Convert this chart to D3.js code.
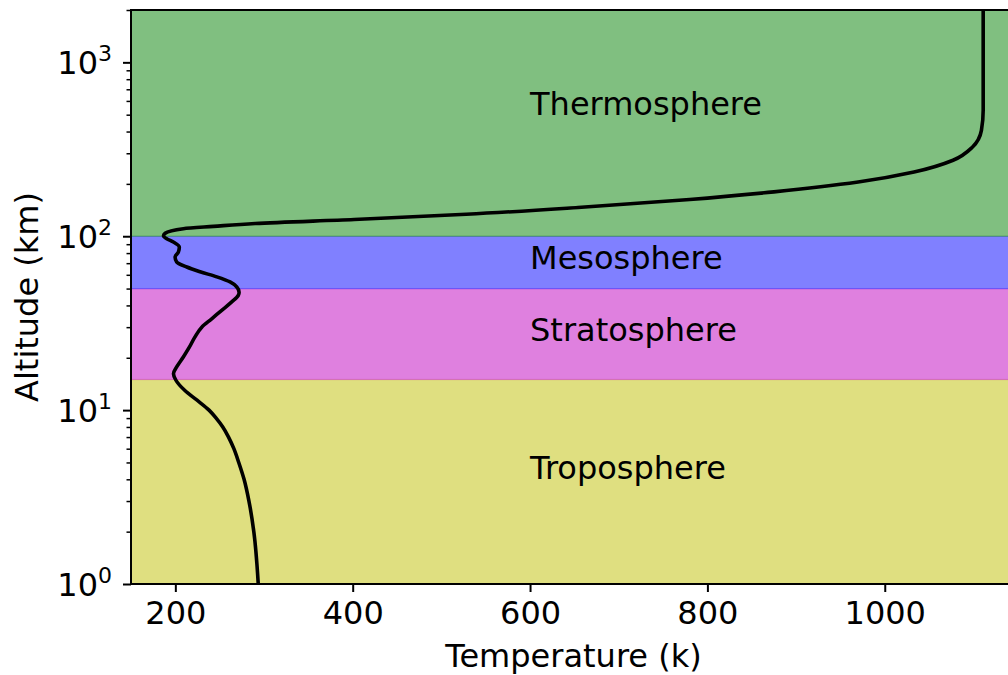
<!DOCTYPE html>
<html>
<head>
<meta charset="utf-8">
<script src="https://cdn.jsdelivr.net/npm/d3@7"></script>
<style>
  html, body { margin: 0; padding: 0; background: #fff; }
  svg { display: block; font-family: "DejaVu Sans", sans-serif; }
</style>
</head>
<body>
<svg id="chart" width="1008" height="675"></svg>
<script>
// Atmospheric layers (altitude bounds in km)
const layerNames = ["Troposphere", "Stratosphere", "Mesosphere", "Thermosphere"];
const layerBottoms = [1, 15, 50, 100];
const layerTops = [15, 50, 100, 2000];
const layerColors = ["#dfdf80", "#df80df", "#8080ff", "#80bf80"];
const layerEdgeColors = ["#bfbf00", "#bf00bf", "#0000ff", "#008000"];
const layerLabelAltitudes = [4, 25, 65, 500];
const layerLabelTemperature = 600;

// Temperature profile: altitude (km) and temperature (K)
const altitudes = [
  1, 2, 3, 4, 5, 6, 7, 8, 9, 10, 11.4, 13, 14.9, 16.2, 17.7, 20.2, 23, 26.3,
  30, 33.5, 37.5, 41.9, 45.7, 47.7, 51.1, 54.6, 58.4, 62.5, 66.5, 71.1, 75.9,
  81, 86.6, 92.6, 96.8, 100.4, 104, 110.5, 113.9, 118.3, 124.7, 133.7, 146.3,
  162.6, 180, 205, 234, 273.5, 326, 406, 530, 2000
];
const temperatures = [
  293.5, 288.5, 283, 277.5, 271.5, 266, 260, 253.5, 246, 238, 224.5, 210.5, 200.5,
  197.9, 201.5, 209, 215.8, 222, 229.8, 241, 252.3, 263.6, 271, 271.9, 269.3,
  261.7, 246.7, 227.9, 212.9, 201.5, 199.7, 203.4, 204.5, 197.8, 190.3, 186.6,
  188.5, 209, 243, 290, 401.6, 528, 654, 780, 875, 970, 1033, 1077, 1099, 1109,
  1111, 1111
];

const xTicks = [200, 400, 600, 800, 1000];
const yMajorTicks = [1, 10, 100, 1000];
const yExponents = ["0", "1", "2", "3"];

const svg = d3.select("#chart");
const plotLeft = 131, plotRight = 1016, plotTop = 10, plotBottom = 584;
const fontSize = 32;

const x = d3.scaleLinear().domain([150, 1148]).range([plotLeft, plotRight]);
const y = d3.scaleLog().domain([1, 2000]).range([plotBottom, plotTop]);

svg.append("defs").append("clipPath").attr("id", "plotClip")
  .append("rect").attr("x", plotLeft).attr("y", plotTop)
  .attr("width", plotRight - plotLeft).attr("height", plotBottom - plotTop);

const plot = svg.append("g").attr("clip-path", "url(#plotClip)");

// Layer bands
const layers = layerNames.map((name, i) => ({
  name, lo: layerBottoms[i], hi: layerTops[i],
  fill: layerColors[i], edge: layerEdgeColors[i], labelAlt: layerLabelAltitudes[i]
}));

plot.selectAll("rect.band").data(layers).join("rect")
  .attr("class", "band")
  .attr("x", plotLeft)
  .attr("width", plotRight - plotLeft)
  .attr("y", d => y(d.hi))
  .attr("height", d => y(d.lo) - y(d.hi))
  .attr("fill", d => d.fill)
  .attr("stroke", d => d.edge)
  .attr("stroke-opacity", 0.35)
  .attr("stroke-width", 1.2);

// Layer names
plot.selectAll("text.layer").data(layers).join("text")
  .attr("class", "layer")
  .attr("x", x(layerLabelTemperature))
  .attr("y", d => y(d.labelAlt))
  .attr("font-size", fontSize)
  .attr("fill", "#000")
  .text(d => d.name);

// Temperature curve
const profile = altitudes.map((a, i) => ({ alt: a, temp: temperatures[i] }));
const line = d3.line()
  .x(d => x(d.temp))
  .y(d => y(d.alt))
  .curve(d3.curveMonotoneY);

plot.append("path")
  .datum(profile)
  .attr("d", line)
  .attr("fill", "none")
  .attr("stroke", "#000")
  .attr("stroke-width", 3.6)
  .attr("stroke-linejoin", "round");

// X axis
const xAxis = d3.axisBottom(x).tickValues(xTicks).tickSize(8).tickPadding(9)
  .tickFormat(d3.format("d"));
const gx = svg.append("g").attr("transform", `translate(0,${plotBottom})`).call(xAxis);
gx.select(".domain").remove();
gx.selectAll(".tick line").attr("stroke", "#000").attr("stroke-width", 2);
gx.selectAll(".tick text").attr("font-size", fontSize)
  .attr("font-family", "DejaVu Sans, sans-serif").attr("fill", "#000");

// Y axis: major ticks with power-of-ten labels, minor ticks between
const yMinor = [];
[1, 10, 100, 1000].forEach(dec => {
  for (let k = 2; k <= 9; k++) if (k * dec <= 2000) yMinor.push(k * dec);
});
const gyMinor = svg.append("g").attr("transform", `translate(${plotLeft},0)`)
  .call(d3.axisLeft(y).tickValues(yMinor).tickSize(4.5).tickFormat(""));
gyMinor.select(".domain").remove();
gyMinor.selectAll(".tick line").attr("stroke", "#000").attr("stroke-width", 1.5);

const gy = svg.append("g").attr("transform", `translate(${plotLeft},0)`)
  .call(d3.axisLeft(y).tickValues(yMajorTicks).tickSize(8).tickFormat(""));
gy.select(".domain").remove();
gy.selectAll(".tick line").attr("stroke", "#000").attr("stroke-width", 2);

const yLabels = svg.append("g");
yMajorTicks.forEach((v, i) => {
  const t = yLabels.append("text")
    .attr("x", plotLeft - 19)
    .attr("y", y(v) + 11.5)
    .attr("text-anchor", "end")
    .attr("font-size", fontSize)
    .attr("fill", "#000");
  t.append("tspan").text("10");
  t.append("tspan").attr("font-size", 22).attr("dy", -13).text(yExponents[i]);
});

// Spines (left, bottom, top)
svg.append("path")
  .attr("d", `M${plotRight},${plotTop}H${plotLeft}V${plotBottom}H${plotRight}`)
  .attr("fill", "none")
  .attr("stroke", "#000")
  .attr("stroke-width", 2)
  .attr("stroke-linecap", "square");

// Axis titles
svg.append("text")
  .attr("x", (plotLeft + plotRight) / 2)
  .attr("y", 667)
  .attr("text-anchor", "middle")
  .attr("font-size", fontSize)
  .attr("fill", "#000")
  .text("Temperature (k)");

svg.append("text")
  .attr("transform", `translate(38,${(plotTop + plotBottom) / 2}) rotate(-90)`)
  .attr("text-anchor", "middle")
  .attr("font-size", fontSize)
  .attr("fill", "#000")
  .text("Altitude (km)");
</script>
</body>
</html>
